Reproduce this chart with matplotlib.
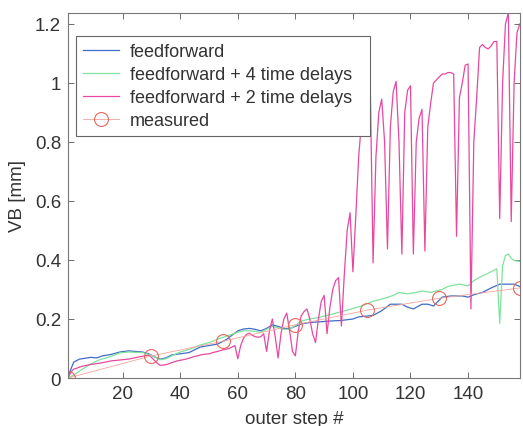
import matplotlib
matplotlib.use("Agg")
import matplotlib.pyplot as plt

plt.rcParams['font.family'] = ['Liberation Sans', 'DejaVu Sans']

# feedforward (blue) - vertices
ff_step = [1, 2, 3, 5, 9, 11, 13, 16, 19, 22, 27, 29, 31, 33, 35, 37, 40, 43,
           47, 50, 53, 56, 58, 60, 62, 64, 66, 68, 70, 72, 74, 76, 78, 80, 82,
           85, 88, 92, 96, 100, 102, 105, 107, 110, 113, 117, 119, 121, 124,
           126, 128, 131, 134, 138, 140, 142, 145, 148, 151, 154, 156, 158]
ff_val = [0.0, 0.03, 0.054, 0.064, 0.07, 0.068, 0.075, 0.08, 0.088, 0.092,
          0.088, 0.082, 0.072, 0.064, 0.068, 0.078, 0.082, 0.086, 0.105,
          0.11, 0.115, 0.13, 0.145, 0.16, 0.166, 0.168, 0.165, 0.16, 0.168,
          0.18, 0.175, 0.168, 0.167, 0.175, 0.183, 0.188, 0.19, 0.193, 0.195,
          0.2, 0.207, 0.21, 0.212, 0.228, 0.25, 0.25, 0.24, 0.234, 0.25, 0.25,
          0.244, 0.274, 0.278, 0.278, 0.274, 0.282, 0.29, 0.305, 0.318, 0.318,
          0.318, 0.31]

# feedforward + 4 time delays (green)
d4_step = [1, 3, 6, 9, 12, 15, 19, 22, 27, 29, 31, 33, 35, 37, 40, 44, 47, 50,
           54, 57, 60, 62, 64, 66, 68, 70, 72, 74, 76, 78, 80, 82, 85, 88, 93,
           98, 103, 107, 111, 114, 116, 119, 122, 124, 127, 131, 133, 137, 140,
           142, 145, 147, 150, 151, 152, 153, 154, 155, 156, 158]
d4_val = [0.0, 0.01, 0.03, 0.048, 0.062, 0.07, 0.085, 0.088, 0.086, 0.08,
          0.072, 0.062, 0.065, 0.075, 0.088, 0.1, 0.112, 0.12, 0.135, 0.145,
          0.155, 0.16, 0.16, 0.158, 0.155, 0.165, 0.175, 0.17, 0.165, 0.165,
          0.178, 0.193, 0.2, 0.205, 0.217, 0.23, 0.244, 0.26, 0.27, 0.28,
          0.29, 0.285, 0.29, 0.295, 0.29, 0.3, 0.31, 0.318, 0.312, 0.33,
          0.346, 0.355, 0.37, 0.185, 0.38, 0.415, 0.42, 0.405, 0.398, 0.395]

# feedforward + 2 time delays (magenta), one value per step
d2_step = list(range(1, 159))
d2_val = [0.0, 0.02, 0.03, 0.033, 0.037, 0.04, 0.042, 0.044, 0.046, 0.047,
          0.049, 0.05, 0.052, 0.054, 0.056, 0.058, 0.059, 0.06, 0.061, 0.062,
          0.063, 0.064, 0.066, 0.068, 0.07, 0.072, 0.074, 0.076, 0.077, 0.07,
          0.06, 0.05, 0.043, 0.044, 0.045, 0.048, 0.052, 0.055, 0.058, 0.06,
          0.062, 0.064, 0.067, 0.07, 0.073, 0.075, 0.078, 0.08, 0.081, 0.082,
          0.085, 0.088, 0.09, 0.093, 0.096, 0.098, 0.1, 0.105, 0.11, 0.065,
          0.11, 0.135, 0.148, 0.152, 0.145, 0.14, 0.138, 0.14, 0.15, 0.09,
          0.16, 0.2, 0.14, 0.068, 0.15, 0.2, 0.22, 0.16, 0.09, 0.075,
          0.16, 0.21, 0.225, 0.234, 0.2, 0.15, 0.12, 0.2, 0.26, 0.28,
          0.15, 0.24, 0.3, 0.33, 0.34, 0.176, 0.35, 0.5, 0.56, 0.36,
          0.55, 0.75, 0.87, 0.94, 0.98, 1.0, 0.39, 0.75, 0.9, 0.945,
          0.8, 0.437, 0.85, 0.97, 1.005, 0.8, 0.42, 0.9, 0.975, 0.99,
          0.42, 0.8, 0.88, 0.91, 0.43, 0.85, 0.93, 1.0, 1.01, 1.02,
          1.03, 1.03, 1.035, 1.035, 1.03, 0.48, 0.95, 1.0, 1.06, 1.064,
          0.234, 0.8, 0.95, 1.12, 1.13, 1.12, 1.115, 1.125, 1.14, 1.14,
          0.54, 1.0, 1.2, 1.237, 0.53, 1.0, 1.17, 1.2]

# measured
meas_step = [1, 30, 55, 80, 105, 130, 158]
meas_val = [0.0, 0.075, 0.125, 0.18, 0.23, 0.27, 0.305]

fig = plt.figure(figsize=(5.23, 4.27), dpi=100)
ax = fig.add_axes([0.130, 0.1124, 0.864, 0.855])

ax.plot(ff_step, ff_val, color='#3f6cc8', lw=0.9, label='feedforward')
ax.plot(d4_step, d4_val, color='#7ee39c', lw=0.9, label='feedforward + 4 time delays')
ax.plot(d2_step, d2_val, color='#e8489f', lw=0.9, label='feedforward + 2 time delays')
ax.plot(meas_step, meas_val, color='#f4a49c', lw=0.6, marker='o', ms=10,
        mfc='none', mec='#e8675e', mew=0.8, label='measured')

ax.set_xlim(1, 158)
ax.set_ylim(0, 1.237)
ax.set_xticks([20, 40, 60, 80, 100, 120, 140])
ax.set_yticks([0, 0.2, 0.4, 0.6, 0.8, 1, 1.2])
ax.set_yticklabels(['0', '0.2', '0.4', '0.6', '0.8', '1', '1.2'])
ax.tick_params(direction='in', top=True, right=True, length=4, width=0.6,
               labelsize=13.5, colors='#555555', labelcolor='#333333', pad=5)
for s in ax.spines.values():
    s.set_color('#777777')
    s.set_linewidth(0.8)

ax.set_xlabel('outer step #', fontsize=13.5, color='#333333', labelpad=6)
ax.set_ylabel('VB [mm]', fontsize=13.5, color='#333333', labelpad=6)

leg = ax.legend(loc='upper left', bbox_to_anchor=(0.0177, 0.0, 0.650, 0.937),
                mode='expand', borderaxespad=0,
                fontsize=13, fancybox=False, framealpha=1, handlelength=2.0,
                handletextpad=0.6, labelspacing=0.33, borderpad=0.4)
leg.get_frame().set_edgecolor('#666666')
leg.get_frame().set_linewidth(0.8)
for t in leg.get_texts():
    t.set_color('#333333')

fig.savefig('out.png', dpi=100)
